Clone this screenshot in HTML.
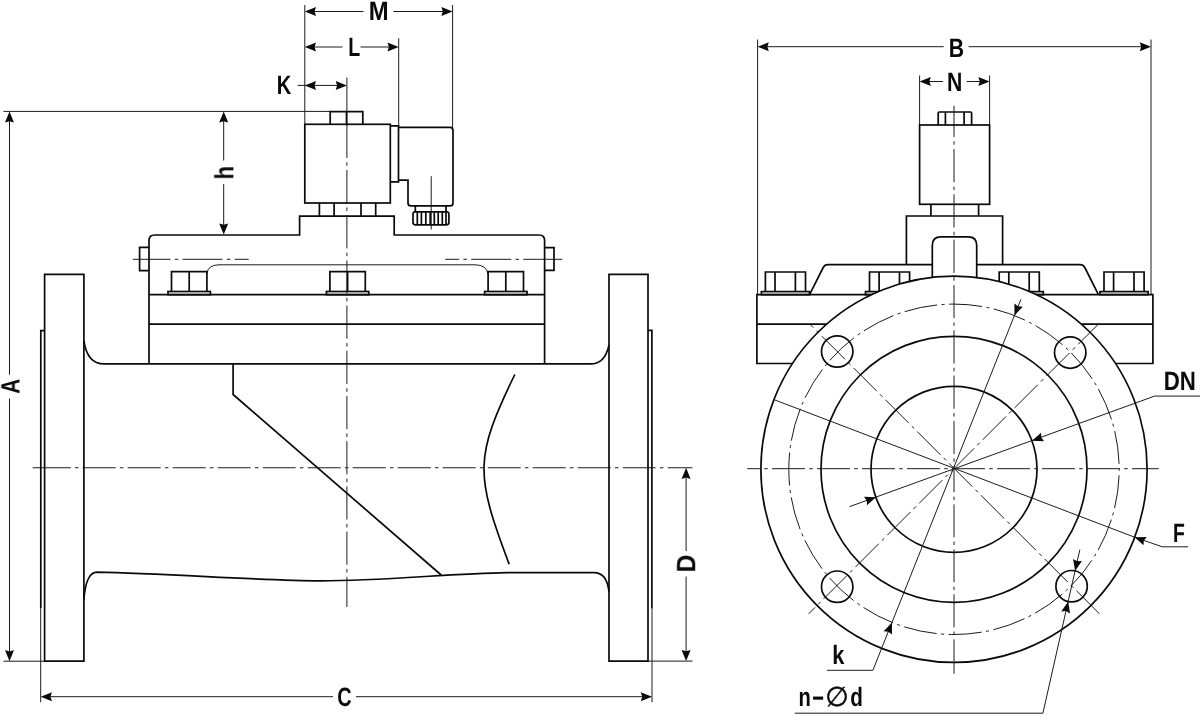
<!DOCTYPE html>
<html><head><meta charset="utf-8"><title>Valve dimensions</title>
<style>
html,body{margin:0;padding:0;background:#fff;}
svg{display:block}
.k{fill:none;stroke:#0a0a0a;stroke-width:1.7}
.kf{fill:#fff;stroke:#0a0a0a;stroke-width:1.7}
.n{fill:none;stroke:#1c1c1c;stroke-width:1}
.c{fill:none;stroke:#1a1a1a;stroke-width:0.8;stroke-dasharray:33 4.5 3 4.5}
.c2{fill:none;stroke:#1a1a1a;stroke-width:0.8;stroke-dasharray:40 4 4 4}
.a{fill:#0a0a0a;stroke:none}
text{font-family:"Liberation Sans",sans-serif;font-weight:bold;fill:#0a0a0a;text-rendering:geometricPrecision}
#txt{opacity:0.999}
</style></head><body>
<svg width="1200" height="714" viewBox="0 0 1200 714">
<rect width="1200" height="714" fill="#fff"/>
<g id="left">
<path class="n" d="M304.80,5.00 L304.80,124.00"/>
<path class="n" d="M452.60,5.00 L452.60,128.00"/>
<path class="n" d="M398.70,38.30 L398.70,126.00"/>
<path class="n" d="M346.90,77.60 L346.90,111.50"/>
<path class="n" d="M313.00,11.50 L363.50,11.50"/>
<path class="n" d="M393.40,11.50 L444.00,11.50"/>
<path class="a" transform="translate(304.80,11.50) rotate(180.00)" d="M0,0 L-11.2,-4.5 L-9.8,0 L-11.2,4.5 Z"/>
<path class="a" transform="translate(452.60,11.50) rotate(0.00)" d="M0,0 L-11.2,-4.5 L-9.8,0 L-11.2,4.5 Z"/>
<path class="n" d="M313.00,47.00 L342.50,47.00"/>
<path class="n" d="M360.50,47.00 L390.00,47.00"/>
<path class="a" transform="translate(304.80,47.00) rotate(180.00)" d="M0,0 L-11.2,-4.5 L-9.8,0 L-11.2,4.5 Z"/>
<path class="a" transform="translate(398.70,47.00) rotate(0.00)" d="M0,0 L-11.2,-4.5 L-9.8,0 L-11.2,4.5 Z"/>
<path class="n" d="M297.60,85.40 L338.00,85.40"/>
<path class="a" transform="translate(304.80,85.40) rotate(180.00)" d="M0,0 L-11.2,-4.5 L-9.8,0 L-11.2,4.5 Z"/>
<path class="a" transform="translate(346.90,85.40) rotate(0.00)" d="M0,0 L-11.2,-4.5 L-9.8,0 L-11.2,4.5 Z"/>
<path class="n" d="M3.40,111.40 L330.30,111.40"/>
<path class="n" d="M3.50,661.20 L44.60,661.20"/>
<path class="n" d="M9.50,119.00 L9.50,374.70"/>
<path class="n" d="M9.50,398.50 L9.50,653.00"/>
<path class="a" transform="translate(9.50,111.40) rotate(-90.00)" d="M0,0 L-11.2,-4.5 L-9.8,0 L-11.2,4.5 Z"/>
<path class="a" transform="translate(9.50,661.20) rotate(90.00)" d="M0,0 L-11.2,-4.5 L-9.8,0 L-11.2,4.5 Z"/>
<path class="n" d="M223.70,119.00 L223.70,160.60"/>
<path class="n" d="M223.70,184.10 L223.70,227.00"/>
<path class="a" transform="translate(223.70,111.40) rotate(-90.00)" d="M0,0 L-11.2,-4.5 L-9.8,0 L-11.2,4.5 Z"/>
<path class="a" transform="translate(223.70,234.60) rotate(90.00)" d="M0,0 L-11.2,-4.5 L-9.8,0 L-11.2,4.5 Z"/>
<path class="n" d="M40.70,608.00 L40.70,702.20"/>
<path class="n" d="M652.00,608.00 L652.00,702.20"/>
<path class="n" d="M49.00,696.70 L333.00,696.70"/>
<path class="n" d="M356.00,696.70 L644.00,696.70"/>
<path class="a" transform="translate(40.70,696.70) rotate(180.00)" d="M0,0 L-11.2,-4.5 L-9.8,0 L-11.2,4.5 Z"/>
<path class="a" transform="translate(652.00,696.70) rotate(0.00)" d="M0,0 L-11.2,-4.5 L-9.8,0 L-11.2,4.5 Z"/>
<path class="n" d="M647.00,661.10 L692.50,661.10"/>
<path class="n" d="M686.10,476.00 L686.10,551.00"/>
<path class="n" d="M686.10,576.50 L686.10,653.00"/>
<path class="a" transform="translate(686.10,467.80) rotate(-90.00)" d="M0,0 L-11.2,-4.5 L-9.8,0 L-11.2,4.5 Z"/>
<path class="a" transform="translate(686.10,661.10) rotate(90.00)" d="M0,0 L-11.2,-4.5 L-9.8,0 L-11.2,4.5 Z"/>
<path class="n" d="M32.70,467.75 L70.65,467.75 M74.95,467.75 L78.45,467.75 M82.75,467.75 L115.65,467.75 M119.95,467.75 L123.45,467.75 M127.75,467.75 L160.65,467.75 M164.95,467.75 L168.45,467.75 M172.75,467.75 L205.65,467.75 M209.95,467.75 L213.45,467.75 M217.75,467.75 L250.65,467.75 M254.95,467.75 L258.45,467.75 M262.75,467.75 L295.65,467.75 M299.95,467.75 L303.45,467.75 M307.75,467.75 L340.65,467.75 M344.95,467.75 L348.45,467.75 M352.75,467.75 L385.65,467.75 M389.95,467.75 L393.45,467.75 M397.75,467.75 L430.65,467.75 M434.95,467.75 L438.45,467.75 M442.75,467.75 L475.65,467.75 M479.95,467.75 L483.45,467.75 M487.75,467.75 L520.65,467.75 M524.95,467.75 L528.45,467.75 M532.75,467.75 L565.65,467.75 M569.95,467.75 L573.45,467.75 M577.75,467.75 L610.65,467.75 M614.95,467.75 L618.45,467.75 M622.75,467.75 L655.65,467.75 M659.95,467.75 L663.45,467.75 M667.75,467.75 L692.50,467.75"/>
<path class="n" d="M346.90,111.50 L346.90,126.00"/>
<path class="n" d="M346.90,125.00 L346.90,157.95 M346.90,162.25 L346.90,165.75 M346.90,170.05 L346.90,203.15 M346.90,207.45 L346.90,210.95 M346.90,215.25 L346.90,248.35 M346.90,252.65 L346.90,256.15 M346.90,260.45 L346.90,293.55 M346.90,297.85 L346.90,301.35 M346.90,305.65 L346.90,338.75 M346.90,343.05 L346.90,346.55 M346.90,350.85 L346.90,383.95 M346.90,388.25 L346.90,391.75 M346.90,396.05 L346.90,429.15 M346.90,433.45 L346.90,436.95 M346.90,441.25 L346.90,474.35 M346.90,478.65 L346.90,482.15 M346.90,486.45 L346.90,519.55 M346.90,523.85 L346.90,527.35 M346.90,531.65 L346.90,564.75 M346.90,569.05 L346.90,572.55 M346.90,576.85 L346.90,607.00"/>
<path class="n" d="M132.80,259.30 L170.45,259.30 M174.75,259.30 L178.25,259.30 M182.55,259.30 L222.55,259.30 M226.85,259.30 L230.35,259.30 M234.65,259.30 L248.70,259.30"/>
<path class="n" d="M445.20,259.30 L459.15,259.30 M463.45,259.30 L466.95,259.30 M471.25,259.30 L511.25,259.30 M515.55,259.30 L519.05,259.30 M523.35,259.30 L562.30,259.30"/>
<path class="n" d="M431.20,176.20 L431.20,229.50"/>
<path class="k" d="M330.2,124.3 V111.7 H362.8 V124.3"/>
<path class="k" d="M346.50,111.70 L346.50,124.30"/>
<rect class="k" x="304.8" y="124.3" width="85.5" height="78.7"/>
<path class="k" d="M390.3,125.8 H398.5 V181.9 H390.3"/>
<path class="k" d="M398.5,127.4 H450 Q453,127.4 453,130.4 V202.9 Q453,205.9 450,205.9 H411 Q408,205.9 408,202.9 V180.2 H398.5"/>
<path class="k" d="M415.3,205.9 V211.8 M446,205.9 V211.8"/>
<rect class="k" x="413" y="211.8" width="35.9" height="13" rx="2.2"/>
<path class="k" d="M417.3,212.3 V224.3 M421.4,212.3 V224.3 M425.8,212.3 V224.3 M430.2,212.3 V224.3 M434.3,212.3 V224.3 M438.2,212.3 V224.3 M442.3,212.3 V224.3 M446.0,212.3 V224.3 "/>
<path class="k" d="M319.4,203 V216.2 M334.1,203 V216.2 M361,203 V216.2 M375.7,203 V216.2"/>
<path class="k" d="M149,363.9 V240.6 Q149,235 154.6,235 H299.6 V216.2 H394.2 V235 H539 Q544.6,235 544.6,240.6 V363.9"/>
<path class="k" d="M149,247.4 H139.6 V270.6 H149"/>
<path class="k" d="M544.6,247.6 H554 V270.4 H544.6"/>
<path class="n" d="M207,273.5 Q208,264.8 219,264.8 H475 Q486.5,264.8 488,274"/>
<path class="k" d="M171.5,291.5 V271.6 H206.9 V291.5 M189.2,271.6 V291.5"/>
<rect class="k" x="168.0" y="291.5" width="42.4" height="3.2"/>
<path class="k" d="M329.9,291.5 V271.6 H365.3 V291.5 M347.6,271.6 V291.5"/>
<rect class="k" x="326.4" y="291.5" width="42.4" height="3.2"/>
<path class="k" d="M488.1,291.5 V271.6 H523.5 V291.5 M505.8,271.6 V291.5"/>
<rect class="k" x="484.6" y="291.5" width="42.4" height="3.2"/>
<path class="k" d="M149.00,294.70 L544.60,294.70"/>
<path class="k" d="M149.00,324.20 L544.60,324.20"/>
<path class="k" d="M83.9,340.8 C86,355 92,363.9 104,363.9 H590.5 C601,363.9 606.5,357 609,344.8"/>
<path class="k" d="M44.6,274.3 H83.9 V661.2 H44.6 Z"/>
<path class="k" d="M44.6,330.6 H40.8 V608"/>
<path class="k" d="M609,274.3 H648 V661.2 H609 Z"/>
<path class="k" d="M648,330.3 H651.9 V608.2"/>
<path class="k" d="M83.9,599.7 C85,584 88,572.4 97,572.2 C170,573.6 262,580.8 321,580.8 C382,580.8 450,573.6 507,572.6 H594 C603,572.6 607.5,579 609,591.5"/>
<path class="k" d="M233.1,363.9 V394.5 L441.2,575"/>
<path class="k" d="M514.8,374.5 C474.7,457.3 474.7,473.2 509.2,564.2"/>
</g>
<g id="right">
<path class="n" d="M757.60,39.50 L757.60,294.60"/>
<path class="n" d="M1151.00,39.50 L1151.00,294.60"/>
<path class="n" d="M766.00,46.70 L943.70,46.70"/>
<path class="n" d="M968.60,46.70 L1143.00,46.70"/>
<path class="a" transform="translate(757.60,46.70) rotate(180.00)" d="M0,0 L-11.2,-4.5 L-9.8,0 L-11.2,4.5 Z"/>
<path class="a" transform="translate(1151.00,46.70) rotate(0.00)" d="M0,0 L-11.2,-4.5 L-9.8,0 L-11.2,4.5 Z"/>
<path class="n" d="M919.60,75.50 L919.60,125.00"/>
<path class="n" d="M989.60,75.50 L989.60,125.00"/>
<path class="n" d="M928.00,81.50 L943.10,81.50"/>
<path class="n" d="M966.70,81.50 L981.00,81.50"/>
<path class="a" transform="translate(919.60,81.50) rotate(180.00)" d="M0,0 L-11.2,-4.5 L-9.8,0 L-11.2,4.5 Z"/>
<path class="a" transform="translate(989.60,81.50) rotate(0.00)" d="M0,0 L-11.2,-4.5 L-9.8,0 L-11.2,4.5 Z"/>
<path class="k" d="M938.2,125 V113 Q938.2,112 939.2,112 H970.6 Q971.6,112 971.6,113 V125 M945.4,112 V125 M964.1,112 V125"/>
<rect class="k" x="919.6" y="125" width="70" height="79.3"/>
<path class="k" d="M930.9,204.3 V216 M978.6,204.3 V216"/>
<path class="k" d="M906.4,264.5 V216 H1002.6 V264.5"/>
<path class="k" d="M932.3,279 V245.3 Q932.3,236.8 940.8,236.8 H968.2 Q976.7,236.8 976.7,245.3 V279"/>
<path class="k" d="M809.6,294.6 L823.2,267.5 Q824.7,264.6 828,264.6 H932.3 M976.7,264.6 H1080 Q1083.3,264.6 1084.8,267.5 L1098.4,294.6"/>
<path class="k" d="M756.9,294.7 H1152.9 V363.5 H756.9 Z"/>
<path class="k" d="M756.90,324.20 L1152.90,324.20"/>
<path class="k" d="M765.4,291.6 V272 H805.5 V291.6 M775.0,272 V291.6 M795.4,272 V291.6"/>
<rect class="k" x="761.4" y="291.6" width="48.1" height="3.1"/>
<path class="k" d="M869.5,291.6 V272 H909.6 V291.6 M879.1,272 V291.6 M899.5,272 V291.6"/>
<rect class="k" x="865.5" y="291.6" width="48.1" height="3.1"/>
<path class="k" d="M999.2,291.6 V272 H1039.3 V291.6 M1008.8,272 V291.6 M1029.2,272 V291.6"/>
<rect class="k" x="995.2" y="291.6" width="48.1" height="3.1"/>
<path class="k" d="M1104.0,291.6 V272 H1144.1 V291.6 M1113.6,272 V291.6 M1134.0,272 V291.6"/>
<rect class="k" x="1100.0" y="291.6" width="48.1" height="3.1"/>
<circle class="kf" cx="954.0" cy="469.3" r="193.1"/>
<circle class="k" cx="954.0" cy="469.3" r="133"/>
<circle class="k" cx="954.0" cy="469.3" r="83"/>
<circle class="k" cx="837.2" cy="351.5" r="15.7"/>
<circle class="k" cx="1070.2" cy="352.6" r="15.7"/>
<circle class="k" cx="837.2" cy="586.7" r="15.7"/>
<circle class="k" cx="1071.6" cy="586.2" r="15.7"/>
<path class="n" d="M954.00,105.70 L954.00,136.95 M954.00,141.25 L954.00,144.75 M954.00,149.05 L954.00,182.25 M954.00,186.55 L954.00,190.05 M954.00,194.35 L954.00,227.55 M954.00,231.85 L954.00,235.35 M954.00,239.65 L954.00,272.85 M954.00,277.15 L954.00,280.65 M954.00,284.95 L954.00,318.15 M954.00,322.45 L954.00,325.95 M954.00,330.25 L954.00,363.45 M954.00,367.75 L954.00,371.25 M954.00,375.55 L954.00,408.75 M954.00,413.05 L954.00,416.55 M954.00,420.85 L954.00,454.05 M954.00,458.35 L954.00,461.85 M954.00,466.15 L954.00,469.00"/>
<path class="n" d="M954.00,468.50 L954.00,492.25 M954.00,496.55 L954.00,500.05 M954.00,504.35 L954.00,537.25 M954.00,541.55 L954.00,545.05 M954.00,549.35 L954.00,582.25 M954.00,586.55 L954.00,590.05 M954.00,594.35 L954.00,627.25 M954.00,631.55 L954.00,635.05 M954.00,639.35 L954.00,673.70"/>
<path class="n" d="M747.20,468.70 L759.95,468.70 M764.25,468.70 L767.75,468.70 M772.05,468.70 L804.95,468.70 M809.25,468.70 L812.75,468.70 M817.05,468.70 L849.95,468.70 M854.25,468.70 L857.75,468.70 M862.05,468.70 L894.95,468.70 M899.25,468.70 L902.75,468.70 M907.05,468.70 L939.95,468.70 M944.25,468.70 L947.75,468.70 M952.05,468.70 L984.95,468.70 M989.25,468.70 L992.75,468.70 M997.05,468.70 L1029.95,468.70 M1034.25,468.70 L1037.75,468.70 M1042.05,468.70 L1074.95,468.70 M1079.25,468.70 L1082.75,468.70 M1087.05,468.70 L1119.95,468.70 M1124.25,468.70 L1127.75,468.70 M1132.05,468.70 L1158.80,468.70"/>
<path class="n" d="M810.20,324.50 L813.28,327.58 M816.32,330.62 L818.79,333.09 M821.83,336.13 L845.10,359.40 M848.14,362.44 L850.61,364.91 M853.65,367.95 L876.92,391.22 M879.96,394.26 L882.43,396.73 M885.47,399.77 L908.74,423.04 M911.78,426.08 L914.25,428.55 M917.29,431.59 L940.56,454.86 M943.60,457.90 L946.07,460.37 M949.11,463.41 L972.37,486.67 M975.42,489.72 L977.89,492.19 M980.93,495.23 L1004.19,518.49 M1007.24,521.54 L1009.71,524.01 M1012.75,527.05 L1036.01,550.31 M1039.06,553.36 L1041.53,555.83 M1044.57,558.87 L1067.83,582.13 M1070.87,585.17 L1073.35,587.65 M1076.39,590.69 L1099.50,613.80"/>
<path class="n" d="M808.70,613.80 L815.10,607.40 M818.14,604.36 L820.61,601.89 M823.66,598.84 L846.92,575.58 M849.96,572.54 L852.43,570.07 M855.48,567.02 L878.74,543.76 M881.78,540.72 L884.25,538.25 M887.29,535.21 L910.56,511.94 M913.60,508.90 L916.07,506.43 M919.11,503.39 L942.38,480.12 M945.42,477.08 L947.89,474.61 M950.93,471.57 L974.20,448.30 M977.24,445.26 L979.71,442.79 M982.75,439.75 L1006.02,416.48 M1009.06,413.44 L1011.53,410.97 M1014.57,407.93 L1037.84,384.66 M1040.88,381.62 L1043.35,379.15 M1046.39,376.11 L1069.66,352.84 M1072.70,349.80 L1075.17,347.33 M1078.21,344.29 L1098.30,324.20"/>
<circle class="n" cx="954.0" cy="469.3" r="165.2" stroke-dasharray="33.13 4.5 3 4.5" stroke-dashoffset="39.1"/>
<path class="n" d="M773.37,399.41 L1134.63,537.19"/>
<path class="n" d="M1134.63,537.19 L1162.2,546.8 H1188"/>
<path class="a" transform="translate(1134.63,537.19) rotate(200.78)" d="M0,0 L-11.2,-4.5 L-9.8,0 L-11.2,4.5 Z"/>
<path class="n" d="M849.5,506.67 L1154.7,396.07 H1200"/>
<path class="a" transform="translate(1032.03,440.72) rotate(160.08)" d="M0,0 L-11.2,-4.5 L-9.8,0 L-11.2,4.5 Z"/>
<path class="a" transform="translate(875.97,497.28) rotate(-19.92)" d="M0,0 L-11.2,-4.5 L-9.8,0 L-11.2,4.5 Z"/>
<path class="n" d="M1020.90,299.31 L872.89,670.3 H826.9"/>
<path class="a" transform="translate(1014.45,315.47) rotate(111.75)" d="M0,0 L-11.2,-4.5 L-9.8,0 L-11.2,4.5 Z"/>
<path class="a" transform="translate(891.95,622.53) rotate(-68.25)" d="M0,0 L-11.2,-4.5 L-9.8,0 L-11.2,4.5 Z"/>
<path class="n" d="M794.8,713.2 H1042.9 L1079.87,549.62"/>
<path class="a" transform="translate(1068.14,601.51) rotate(-77.27)" d="M0,0 L-11.2,-4.5 L-9.8,0 L-11.2,4.5 Z"/>
<path class="a" transform="translate(1075.06,570.89) rotate(102.73)" d="M0,0 L-11.2,-4.5 L-9.8,0 L-11.2,4.5 Z"/>
</g>
<g id="txt">
<text transform="translate(378.80,19.50) scale(0.9,1)" text-anchor="middle" font-size="26.5" >M</text>
<text transform="translate(354.30,55.60) scale(0.74,1)" text-anchor="middle" font-size="26.5" >L</text>
<text transform="translate(284.00,94.30) scale(0.76,1)" text-anchor="middle" font-size="26.5" >K</text>
<text transform="translate(19.50,386.20) rotate(-90) scale(0.78,1)" text-anchor="middle" font-size="26.5" >A</text>
<text transform="translate(233.40,172.70) rotate(-90) scale(0.83,1)" text-anchor="middle" font-size="26.5" >h</text>
<text transform="translate(344.40,706.20) scale(0.75,1)" text-anchor="middle" font-size="26.5" >C</text>
<text transform="translate(695.20,563.60) rotate(-90) scale(0.93,1)" text-anchor="middle" font-size="26.5" >D</text>
<text transform="translate(956.50,56.50) scale(0.8,1)" text-anchor="middle" font-size="26.5" >B</text>
<text transform="translate(954.70,90.70) scale(0.8,1)" text-anchor="middle" font-size="26.5" >N</text>
<text transform="translate(1178.90,542.20) scale(0.73,1)" text-anchor="middle" font-size="26.5" >F</text>
<text transform="translate(1179.80,390.40) scale(0.84,1)" text-anchor="middle" font-size="26.5" >DN</text>
<text transform="translate(838.40,663.70) scale(0.82,1)" text-anchor="middle" font-size="26.5" >k</text>
<text font-size="26.5" y="706.2"><tspan x="798.4" textLength="12.3" lengthAdjust="spacingAndGlyphs">n</tspan><tspan x="811.6" y="705.2" textLength="13.23" lengthAdjust="spacingAndGlyphs">-</tspan><tspan x="837.1" y="706.2" text-anchor="middle" font-size="27" style="font-family:'DejaVu Sans Light','DejaVu Sans',sans-serif;font-weight:200;stroke:#0a0a0a;stroke-width:0.5px">∅</tspan><tspan x="850.3" y="706.2" textLength="12.63" lengthAdjust="spacingAndGlyphs">d</tspan></text>
</g>
</svg>
</body></html>
